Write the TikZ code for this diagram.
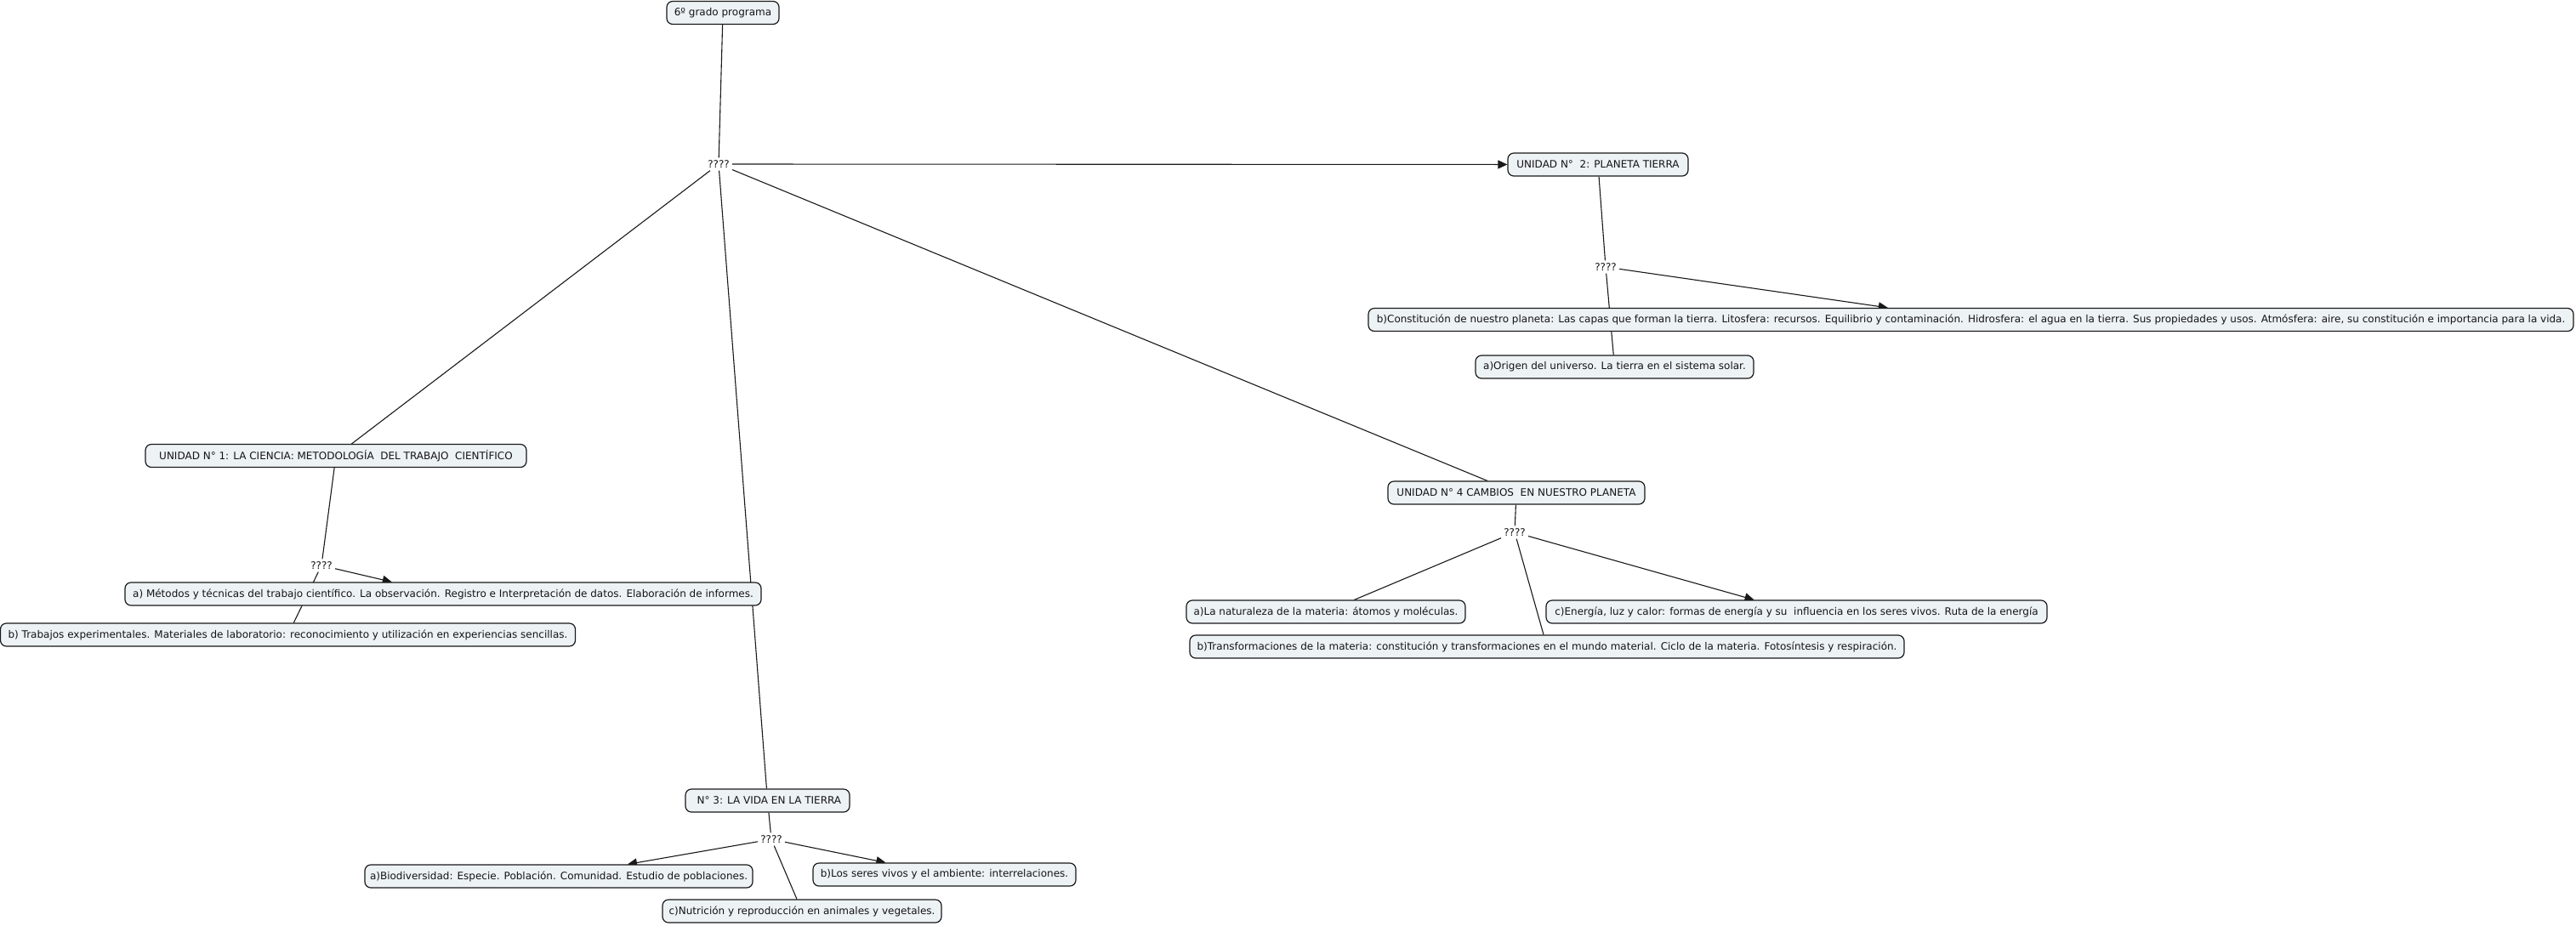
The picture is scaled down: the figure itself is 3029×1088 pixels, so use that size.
\documentclass[tikz,border=0pt]{standalone}
\usepackage{fontspec}
\setmainfont{DejaVu Sans}
\usetikzlibrary{arrows.meta}
\pgfdeclarelayer{bg}
\pgfsetlayers{bg,main}
\definecolor{boxfill}{RGB}{237,242,245}
\definecolor{edgecol}{RGB}{25,25,25}
\definecolor{txtcol}{RGB}{20,20,20}
\tikzset{
  concept/.style={draw=edgecol, fill=boxfill, rounded corners=7pt, line width=1.2pt,
    inner sep=0pt, minimum width=#1, minimum height=27pt, text=txtcol,
    font=\fontsize{12}{14}\selectfont},
  linkph/.style={inner sep=3pt, text=txtcol, font=\fontsize{12}{14}\selectfont},
  conn/.style={draw=edgecol, line width=1.1pt},
  arr/.style={conn, -{Triangle[length=11pt,width=10pt]}}
}
\begin{document}
\begin{tikzpicture}[x=1pt,y=-1pt]
\useasboundingbox (0,0) rectangle (3029,1088);
\begin{pgfonlayer}{bg}
\fill[white] (0,0) rectangle (3029,1088);
\end{pgfonlayer}
% nodes
\node[concept=132] (top) at (850,15) {6º grado programa};
\node[linkph] (q0) at (845,193) {????};
\node[concept=212] (u2) at (1879,193.5) {UNIDAD N°\ \ 2: PLANETA TIERRA};
\node[linkph] (q2) at (1888,314) {????};
\node[concept=1417] (b2) at (2317.5,376) {b)Constitución de nuestro planeta: Las capas que forman la tierra. Litosfera: recursos. Equilibrio y contaminación. Hidrosfera: el agua en la tierra. Sus propiedades y usos. Atmósfera: aire, su constitución e importancia para la vida.};
\node[concept=327] (a2) at (1898.5,431.5) {a)Origen del universo. La tierra en el sistema solar.};
\node[concept=448] (u1) at (395,536) {UNIDAD N° 1: LA CIENCIA: METODOLOGÍA\ \ DEL TRABAJO\ \ CIENTÍFICO};
\node[linkph] (q1) at (378,665) {????};
\node[concept=748] (a1) at (521,698.5) {a) Métodos y técnicas del trabajo científico. La observación. Registro e Interpretación de datos. Elaboración de informes.};
\node[concept=676] (b1) at (338.5,746.5) {b) Trabajos experimentales. Materiales de laboratorio: reconocimiento y utilización en experiencias sencillas.};
\node[concept=302] (u4) at (1783,579.5) {UNIDAD N° 4 CAMBIOS\ \ EN NUESTRO PLANETA};
\node[linkph] (q4) at (1781,626) {????};
\node[concept=328] (a4) at (1559,719.5) {a)La naturaleza de la materia: átomos y moléculas.};
\node[concept=589] (c4) at (2112.5,719.5) {c)Energía, luz y calor: formas de energía y su\ \ influencia en los seres vivos. Ruta de la energía};
\node[concept=840] (b4) at (1819,760.5) {b)Transformaciones de la materia: constitución y transformaciones en el mundo material. Ciclo de la materia. Fotosíntesis y respiración.};
\node[concept=193] (u3) at (902.5,941.5) {\ N° 3: LA VIDA EN LA TIERRA};
\node[linkph] (q3) at (907,987) {????};
\node[concept=456] (a3) at (657,1030.5) {a)Biodiversidad: Especie. Población. Comunidad. Estudio de poblaciones.};
\node[concept=309] (b3) at (1110.5,1028.5) {b)Los seres vivos y el ambiente: interrelaciones.};
\node[concept=328] (c3) at (943,1071.5) {c)Nutrición y reproducción en animales y vegetales.};
% connectors
\begin{pgfonlayer}{bg}
\draw[conn] (top) -- (q0);
\draw[arr] (q0) -- (u2);
\draw[conn] (q0) -- (u1);
\draw[conn] (q0) -- (u3);
\draw[conn] (q0) -- (u4);
\draw[conn] (u2) -- (q2);
\draw[arr] (q2) -- (b2);
\draw[conn] (q2) -- (a2);
\draw[conn] (u1) -- (q1);
\draw[arr] (q1) -- (a1);
\draw[conn] (q1) -- (b1);
\draw[conn] (u4) -- (q4);
\draw[conn] (q4) -- (a4);
\draw[conn] (q4) -- (b4);
\draw[arr] (q4) -- (c4);
\draw[conn] (u3) -- (q3);
\draw[arr] (q3) -- (a3);
\draw[arr] (q3) -- (b3);
\draw[conn] (q3) -- (c3);
\end{pgfonlayer}
\end{tikzpicture}
\end{document}
